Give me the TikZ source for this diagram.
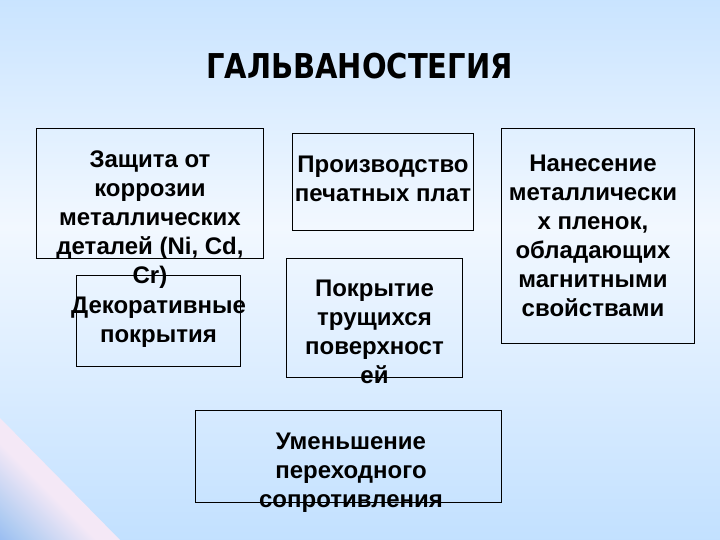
\documentclass[tikz,border=0pt]{standalone}
\usepackage{fontspec}
\setmainfont{Liberation Sans}
\newfontfamily\titlefont{DejaVu Sans}
\definecolor{bgA}{HTML}{99CCFF}
\definecolor{bgB}{HTML}{F2F8FF}
\definecolor{triA}{HTML}{70A2F2}
\definecolor{triM}{HTML}{B0CCF2}
\definecolor{triB}{HTML}{F4E8F6}
\pgfdeclareverticalshading{bgshade}{100bp}{color(0bp)=(bgA); color(54bp)=(bgB); color(100bp)=(bgA)}
\pgfdeclarehorizontalshading{trishade}{100bp}{color(0bp)=(triA); color(22bp)=(triM); color(43bp)=(triB); color(100bp)=(triB)}
\begin{document}
\begin{tikzpicture}[x=1pt,y=-1pt,
  box/.style={draw=black, line width=0.8pt, rectangle, inner sep=0pt},
  txt/.style={align=center, anchor=north, inner sep=0pt, text=black,
    font=\fontsize{24}{29}\selectfont\bfseries}]
\useasboundingbox (0,0) rectangle (720,540);
\shade[shading=bgshade] (0,0) rectangle (720,540);
\shade[shading=trishade, shading angle=45] (0,418) -- (120,540) -- (0,540) -- cycle;

\node[font=\titlefont\bfseries\fontsize{29}{34}\selectfont, anchor=base, inner sep=0pt] (title) at (359.5,79) {\scalebox{1}[1.18]{ГАЛЬВАНОСТЕГИЯ}};

\node[box, minimum width=226.3pt, minimum height=129.5pt] (b1) at (149.9,193.6) {};
\node[box, minimum width=163.3pt, minimum height=90.5pt] (b2) at (158.4,320.8) {};
\node[box, minimum width=180.9pt, minimum height=97.4pt] (b3) at (383,181.7) {};
\node[box, minimum width=175.5pt, minimum height=119.1pt] (b4) at (374.3,317.9) {};
\node[box, minimum width=192.8pt, minimum height=214.5pt] (b5) at (597.8,236) {};
\node[box, minimum width=305.4pt, minimum height=91.2pt] (b6) at (348.3,456.4) {};

\node[txt] (t1) at (150,146.7) {\strut Защита от\\коррозии\\металлических\\деталей (Ni, Cd,\\Cr)};
\node[txt] (t2) at (158.5,292.7) {\strut Декоративные\\покрытия};
\node[txt] (t3) at (383,151.7) {\strut Производство\\печатных плат};
\node[txt] (t4) at (374.5,276.3) {\strut Покрытие\\трущихся\\поверхност\\ей};
\node[txt] (t5) at (593,151.3) {\strut Нанесение\\металлически\\х пленок,\\обладающих\\магнитными\\свойствами};
\node[txt] (t6) at (351,429.2) {\strut Уменьшение\\переходного\\сопротивления};
\end{tikzpicture}
\end{document}
